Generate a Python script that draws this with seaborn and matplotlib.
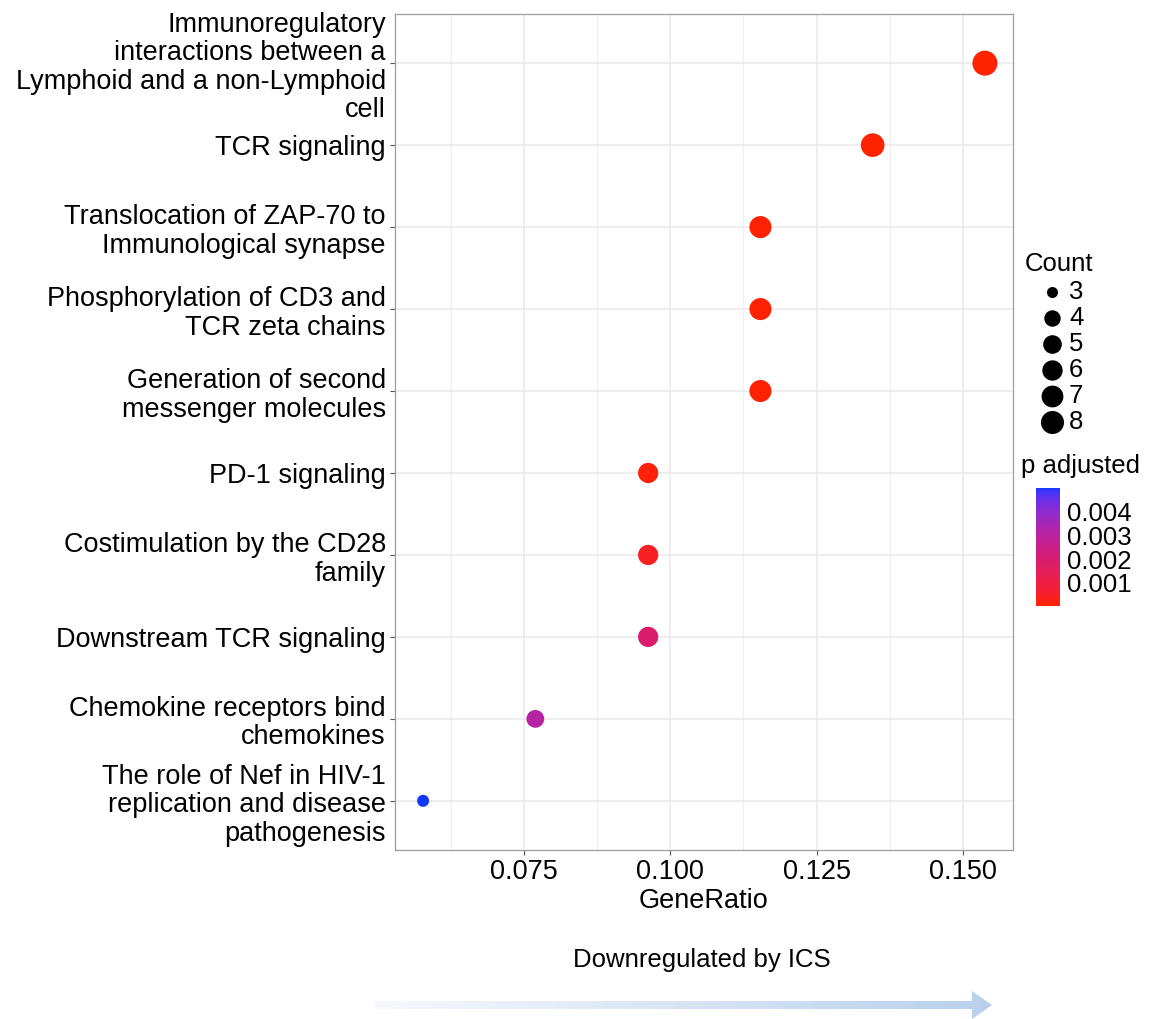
import numpy as np
import pandas as pd
import matplotlib
matplotlib.use("Agg")
import matplotlib.pyplot as plt
import seaborn as sns
from matplotlib.colors import ListedColormap, Normalize, to_rgb
from matplotlib.patches import Polygon
from matplotlib.cm import ScalarMappable

# ---------------- data ----------------
descriptions = [
    "Immunoregulatory\ninteractions between a\nLymphoid and a non-Lymphoid\ncell",
    "TCR signaling",
    "Translocation of ZAP-70 to\nImmunological synapse",
    "Phosphorylation of CD3 and\nTCR zeta chains",
    "Generation of second\nmessenger molecules",
    "PD-1 signaling",
    "Costimulation by the CD28\nfamily",
    "Downstream TCR signaling",
    "Chemokine receptors bind\nchemokines",
    "The role of Nef in HIV-1\nreplication and disease\npathogenesis",
]
gene_ratio = [0.1538, 0.1346, 0.1154, 0.1154, 0.1154, 0.0962, 0.0962, 0.0962, 0.0769, 0.0577]
counts = [8, 7, 6, 6, 6, 5, 5, 5, 4, 3]
p_adjusted = [0.00002, 0.00003, 0.00005, 0.00005, 0.00005, 0.0001, 0.0004, 0.0019, 0.0031, 0.0050]
x_ticks = [0.075, 0.100, 0.125, 0.150]
x_tick_labels = ["0.075", "0.100", "0.125", "0.150"]
cbar_ticks = [0.001, 0.002, 0.003, 0.004]
cbar_tick_labels = ["0.001", "0.002", "0.003", "0.004"]
count_levels = [3, 4, 5, 6, 7, 8]

df = pd.DataFrame({"Description": descriptions, "GeneRatio": gene_ratio,
                   "Count": counts, "p.adjust": p_adjusted})

# ---------------- colour map (ggplot-like Lab gradient) ----------------
WHITE = np.array([0.95047, 1.0, 1.08883])
M = np.array([[0.4124, 0.3576, 0.1805], [0.2126, 0.7152, 0.0722], [0.0193, 0.1192, 0.9505]])

def srgb_to_lab(rgb):
    rgb = np.asarray(rgb, float)
    lin = np.where(rgb <= 0.04045, rgb / 12.92, ((rgb + 0.055) / 1.055) ** 2.4)
    xyz = M @ lin / WHITE
    f = np.where(xyz > 0.008856, np.cbrt(xyz), 7.787 * xyz + 16 / 116)
    return np.array([116 * f[1] - 16, 500 * (f[0] - f[1]), 200 * (f[1] - f[2])])

def lab_to_srgb(lab):
    L, a, b = lab
    fy = (L + 16) / 116
    fx = fy + a / 500
    fz = fy - b / 200
    f = np.array([fx, fy, fz])
    xyz = np.where(f ** 3 > 0.008856, f ** 3, (f - 16 / 116) / 7.787) * WHITE
    lin = np.linalg.solve(M, xyz)
    lin = np.clip(lin, 0, 1)
    srgb = np.where(lin <= 0.0031308, 12.92 * lin, 1.055 * lin ** (1 / 2.4) - 0.055)
    return np.clip(srgb, 0, 1)

low_lab = srgb_to_lab(to_rgb("#FF2200"))
high_lab = srgb_to_lab(to_rgb("#1236FF"))
cols = [lab_to_srgb(low_lab + t * (high_lab - low_lab)) for t in np.linspace(0, 1, 256)]
cmap = ListedColormap(cols)
pmin, pmax = min(p_adjusted), max(p_adjusted)

# size mapping like ggplot scale_size(range) with area scaling
dmin_px, dmax_px = 12.0, 25.0
cmin, cmax = min(counts), max(counts)
def diam_px(c):
    return dmin_px + np.sqrt((c - cmin) / (cmax - cmin)) * (dmax_px - dmin_px)
size_map = {c: (diam_px(c) * 0.72) ** 2 for c in count_levels}

# ---------------- figure ----------------
W, H = 1150, 1019
sns.set_theme(style="white")
plt.rcParams["font.family"] = ["Liberation Sans", "DejaVu Sans"]
plt.rcParams["text.color"] = "black"
plt.rcParams["axes.labelcolor"] = "black"
plt.rcParams["xtick.color"] = "black"
plt.rcParams["ytick.color"] = "black"
fig = plt.figure(figsize=(W / 100, H / 100), dpi=100)

AX_FS = 19.5
LEG_FS = 18.5

left, right, top, bottom = 395, 1013, 14, 850
ax = fig.add_axes([left / W, 1 - bottom / H, (right - left) / W, (bottom - top) / H])

sns.scatterplot(data=df, x="GeneRatio", y="Description", hue="p.adjust", size="Count",
                palette=cmap, hue_norm=(pmin, pmax), sizes=size_map,
                linewidth=0, legend=False, ax=ax, zorder=3)

n = len(descriptions)
xr = max(gene_ratio) - min(gene_ratio)
ax.set_xlim(min(gene_ratio) - 0.05 * xr, max(gene_ratio) + 0.05 * xr)
ax.set_ylim(n - 1 + 0.6, -0.6)
ax.set_xticks(x_ticks)
ax.set_xticklabels(x_tick_labels)
ax.set_xticks([0.0625, 0.0875, 0.1125, 0.1375], minor=True)
ax.grid(True, which="major", color="#E9E9E9", linewidth=1.1, zorder=0)
ax.grid(True, which="minor", axis="x", color="#F0F0F0", linewidth=0.8, zorder=0)
ax.set_axisbelow(True)
for s in ax.spines.values():
    s.set_color("#9E9E9E")
    s.set_linewidth(0.9)
ax.tick_params(axis="both", which="major", direction="out", length=3.5, width=0.8,
               color="#555555", labelsize=AX_FS, labelcolor="black", pad=3, left=True, bottom=True)
ax.tick_params(axis="x", which="minor", length=0)
for lab in ax.get_yticklabels():
    lab.set_linespacing(1.13)
ax.set_xlabel("GeneRatio", fontsize=AX_FS, labelpad=2, color="black")
ax.set_ylabel("")

# ---------------- overlay (legend & arrow) ----------------
ov = fig.add_axes([0, 0, 1, 1], zorder=-1)
ov.set_xlim(0, W)
ov.set_ylim(H, 0)
ov.axis("off")

ov.text(1025, 264, "Count", fontsize=LEG_FS, ha="left", va="center")
for i, c in enumerate(count_levels):
    yy = 292 + i * 26
    ov.scatter([1052], [yy], s=size_map[c] * 0.85, color="black", linewidth=0)
    ov.text(1069, yy, str(c), fontsize=LEG_FS, ha="left", va="center")

ov.text(1021, 466, "p adjusted", fontsize=LEG_FS, ha="left", va="center")

# arrow with gradient
ov.text(702, 960, "Downregulated by ICS", fontsize=LEG_FS, ha="center", va="center")
ax_x0, ax_x1, shaft_h, head_x = 375, 992, 8, 972
yc = 1005
grad = np.linspace(0, 1, 256).reshape(1, -1)
arrow_cmap = ListedColormap([np.array(to_rgb("#F7F9FD")) * (1 - t) + np.array(to_rgb("#B9D0EC")) * t
                             for t in np.linspace(0, 1, 256)])
im = ov.imshow(grad, cmap=arrow_cmap, extent=(ax_x0, ax_x1, yc + 15, yc - 15), aspect="auto")
poly = Polygon([(ax_x0, yc - shaft_h / 2), (head_x, yc - shaft_h / 2), (head_x, yc - 14),
                (ax_x1, yc), (head_x, yc + 14), (head_x, yc + shaft_h / 2), (ax_x0, yc + shaft_h / 2)],
               closed=True, transform=ov.transData, facecolor="none", edgecolor="none")
ov.add_patch(poly)
im.set_clip_path(poly)
ov.set_xlim(0, W)
ov.set_ylim(H, 0)

# ---------------- colorbar ----------------
cax = fig.add_axes([1036 / W, 1 - 606 / H, 24 / W, 118 / H])
sm = ScalarMappable(norm=Normalize(pmin, pmax), cmap=cmap)
cb = fig.colorbar(sm, cax=cax)
cb.outline.set_visible(False)
cb.set_ticks(cbar_ticks)
cb.set_ticklabels(cbar_tick_labels)
cax.tick_params(which="major", direction="in", length=4.5, width=0.8, color="white",
                left=True, right=True, labelsize=LEG_FS, pad=5)
cax.minorticks_off()

fig.savefig("out.png", dpi=100, facecolor="white")
